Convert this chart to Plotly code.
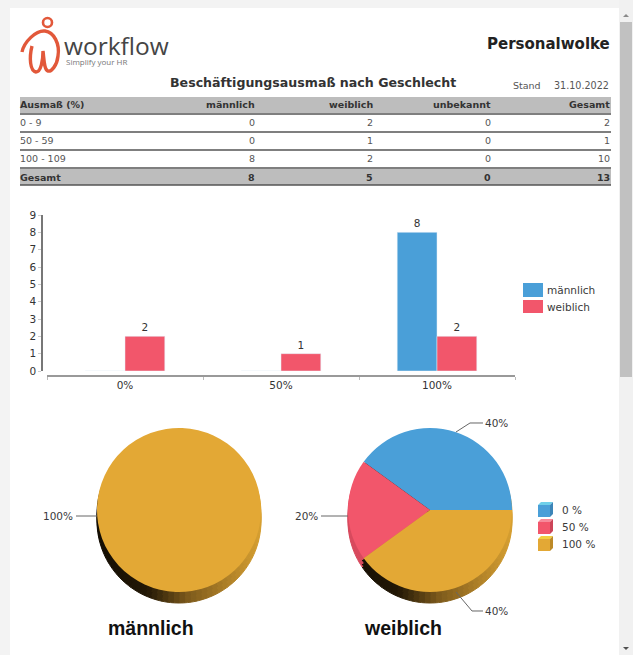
import math
import plotly.graph_objects as go

W, H = 633, 655

# ---- data ----
table_header = ["Ausmaß (%)", "männlich", "weiblich", "unbekannt", "Gesamt"]
table_ranges = ["0 - 9", "50 - 59", "100 - 109"]
table_male = [0, 0, 8]
table_female = [2, 1, 2]
table_unknown = [0, 0, 0]
table_total = [2, 1, 10]
footer_row = ["Gesamt", 8, 5, 0, 13]

bar_categories = ["0%", "50%", "100%"]
bar_male = [0, 0, 8]
bar_female = [2, 1, 2]

pie_labels = ["0 %", "50 %", "100 %"]
pie_male = [0, 0, 8]
pie_female = [2, 1, 2]

BLUE, RED, GOLD = "#4a9fd8", "#f2566b", "#e3a835"
BLUE_TOP, RED_TOP, GOLD_TOP = "#6fd0ea", "#f78a9a", "#f2d040"
BLUE_SIDE, RED_SIDE, GOLD_SIDE = "#3c85b8", "#cc4458", "#bd8a28"
TXT, FONT = "#3a3a3a", "DejaVu Sans"


def px(x):
    return x / W


def py(y):
    return 1 - y / H


def path(points, close=False):
    s = "M" + " L".join(f"{px(x):.5f},{py(y):.5f}" for x, y in points)
    return s + (" Z" if close else "")


def curve(start, segs):
    s = f"M{px(start[0]):.5f},{py(start[1]):.5f}"
    for a, b, c in segs:
        s += " C" + " ".join(f"{px(p[0]):.5f},{py(p[1]):.5f}" for p in (a, b, c))
    return s


shapes, annotations = [], []


def rect(x0, y0, x1, y1, color, layer="below"):
    shapes.append(dict(type="rect", xref="paper", yref="paper", x0=px(x0), x1=px(x1), y0=py(y0), y1=py(y1),
                       fillcolor=color, line=dict(width=0), layer=layer))


def line(points, color="#666666", width=1):
    shapes.append(dict(type="path", xref="paper", yref="paper", path=path(points),
                       line=dict(color=color, width=width), layer="above"))


def poly(points, color):
    shapes.append(dict(type="path", xref="paper", yref="paper", path=path(points, True),
                       fillcolor=color, line=dict(width=0), layer="above"))


def text(x, y, s, size=9.5, bold=False, anchor="left", color=TXT, font=FONT):
    annotations.append(dict(xref="paper", yref="paper", x=px(x), y=py(y), text=f"<b>{s}</b>" if bold else str(s),
                            showarrow=False, xanchor=anchor, yanchor="middle",
                            font=dict(size=size, color=color, family=font), borderpad=0, borderwidth=0))


# page frame and scrollbar
rect(0, 0, W, 8, "#f3f3f3")
rect(0, 0, 10, H, "#f3f3f3")
rect(619, 0, W, H, "#f1f1f1")
rect(620, 22, 632, 377, "#c1c1c1")
poly([(623, 17), (626, 14), (629, 17)], "#8a8a8a")
poly([(623, 647), (626, 650), (629, 647)], "#505050")

# logo
LOGO = "#e2583a"
shapes.append(dict(type="circle", xref="paper", yref="paper", x0=px(43), x1=px(52), y0=py(27), y1=py(18),
                   line=dict(color=LOGO, width=2.6), layer="above"))
shapes.append(dict(type="path", xref="paper", yref="paper", layer="above",
                   line=dict(color=LOGO, width=3.4),
                   path=curve((22, 52), [((24, 42), (36, 30), (45, 31)),
                                         ((54, 32), (60, 44), (58, 56)),
                                         ((57, 66), (51, 72), (48, 71)),
                                         ((44, 70), (44, 58), (43, 51)),
                                         ((43, 60), (41, 72), (36, 72)),
                                         ((30, 71), (29, 58), (32, 46))])))
text(64, 46, "workflow", size=24.5, color="#454545", font="Open Sans")
text(66, 62, "Simplify your HR", size=8, color="#777777", font="Open Sans")

# headings
text(610, 44, "Personalwolke", size=15, bold=True, anchor="right", color="#222222")
text(170, 83, "Beschäftigungsausmaß nach Geschlecht", size=12.6, bold=True, color="#333333")
text(513, 86, "Stand", size=9.5, color="#555555")
text(609, 86, "31.10.2022", size=9.6, anchor="right", color="#555555")

# table
GREY = "#bdbdbd"
COLS = [20, 255, 373, 491, 610]
rect(20, 97, 611, 113, GREY)
rect(20, 169, 611, 185, GREY)
for y, wd in [(114, 1.5), (132, 1.5), (150, 1.5), (168, 1.5), (185, 1.5)]:
    line([(20, y), (611, y)], "#555555", wd)


def table_row(y, cells, bold=False, color="#555555"):
    for i, c in enumerate(cells):
        text(COLS[i], y, c, size=9.5, bold=bold, anchor="left" if i == 0 else "right", color=color)


table_row(105, table_header, True, "#333333")
for i, r in enumerate(table_ranges):
    table_row(122 + 18 * i, [r, table_male[i], table_female[i], table_unknown[i], table_total[i]])
table_row(177, footer_row, True, "#333333")

# bar legend
rect(523, 283, 543, 297, BLUE)
rect(523, 300, 543, 313, RED)
text(547, 290, "männlich", size=10.5)
text(547, 307, "weiblich", size=10.5)

# pie legend
for i, (lab, front, top, side) in enumerate(zip(pie_labels, (BLUE, RED, GOLD), (BLUE_TOP, RED_TOP, GOLD_TOP),
                                                (BLUE_SIDE, RED_SIDE, GOLD_SIDE))):
    d = 17 * i
    poly([(538, 505 + d), (541, 502 + d), (553, 502 + d), (550, 505 + d)], top)
    poly([(550, 505 + d), (553, 502 + d), (553, 514 + d), (550, 517 + d)], side)
    poly([(538, 505 + d), (550, 505 + d), (550, 517 + d), (538, 517 + d)], front)
    text(562, 510 + d, lab, size=10.5)

# pie leaders and labels
line([(76, 516), (97, 516)])
text(73, 516, "100%", size=10.5, anchor="right")
line([(321, 516), (348, 516)])
text(318, 516, "20%", size=10.5, anchor="right")
line([(456, 432), (470, 423), (483, 423)])
text(485, 423, "40%", size=10.5)
line([(456, 592), (472, 611), (483, 611)])
text(485, 611, "40%", size=10.5)

text(151, 628, "männlich", size=19.5, bold=True, anchor="center", color="#111111", font="Liberation Sans")
text(403, 628, "weiblich", size=19.5, bold=True, anchor="center", color="#111111", font="Liberation Sans")

fig = go.Figure()

# bars
fig.add_bar(x=bar_categories, y=bar_male, name="männlich", marker=dict(color=BLUE),
            text=[v if v else "" for v in bar_male], textposition="outside", cliponaxis=False,
            textfont=dict(size=10.5, color="#333333", family=FONT))
fig.add_bar(x=bar_categories, y=bar_female, name="weiblich", marker=dict(color=RED),
            text=[v if v else "" for v in bar_female], textposition="outside", cliponaxis=False,
            textfont=dict(size=10.5, color="#333333", family=FONT))


def mix(t):
    """Shade of the pie's edge from its dark left to its lit right."""
    stops = [(0.0, (20, 14, 4)), (0.3, (35, 24, 6)), (0.55, (125, 90, 28)), (1.0, (215, 160, 50))]
    for (a, ca), (b, cb) in zip(stops, stops[1:]):
        if t <= b:
            f = (t - a) / (b - a)
            return "rgb(%d,%d,%d)" % tuple(round(ca[k] + (cb[k] - ca[k]) * f) for k in range(3))
    return "rgb(215,160,50)"


def edge_pie(x0, x1, top, bottom, red_band):
    n = 90
    colors = []
    for i in range(n):
        a = (i + 0.5) * 360 / n
        if red_band and 234 < a < 306:
            colors.append("#d84a5e")
        else:
            colors.append(mix((1 + math.sin(math.radians(a))) / 2))
    fig.add_pie(values=[1] * n, domain=dict(x=[px(x0), px(x1)], y=[py(bottom), py(top)]), sort=False,
                direction="clockwise", rotation=0, textinfo="none", hoverinfo="skip", showlegend=False,
                marker=dict(colors=colors, line=dict(width=1, color=colors)))


# pies with their rim
for off in (11, 8, 4):
    edge_pie(97, 261, 428 + off, 592 + off, False)
    edge_pie(348, 512, 428 + off, 592 + off, True)

for vals, x0, x1 in ((pie_male, 97, 261), (pie_female, 348, 512)):
    fig.add_pie(labels=pie_labels, values=vals, domain=dict(x=[px(x0), px(x1)], y=[py(592), py(428)]),
                sort=False, direction="counterclockwise", rotation=-54, textinfo="none", showlegend=False,
                marker=dict(colors=[BLUE, RED, GOLD], line=dict(width=0)))

fig.update_layout(
    width=W, height=H, margin=dict(l=0, r=0, t=0, b=0, autoexpand=False), paper_bgcolor="white",
    plot_bgcolor="rgba(0,0,0,0)",
    showlegend=False, barmode="group", bargap=0.49, bargroupgap=0, shapes=shapes, annotations=annotations,
    font=dict(family=FONT, color="#333333"),
    xaxis=dict(domain=[px(47), px(515)], anchor="free", position=py(376), type="category", showgrid=False,
               showline=True, linecolor="#999999", linewidth=1.5, tickson="boundaries", ticks="outside", ticklen=3,
               tickcolor="#bbbbbb", tickfont=dict(size=10.5, color="#333333"), zeroline=False, fixedrange=True),
    yaxis=dict(domain=[py(371), py(215)], range=[0, 9], anchor="free", position=px(42), showgrid=False,
               showline=True, linecolor="#777777", linewidth=1.5, ticks="outside", ticklen=3, tickcolor="#cccccc",
               dtick=1, tickfont=dict(size=10.5, color="#333333"), zeroline=False, fixedrange=True),
)

fig.write_html("out.html", post_script="document.body.style.margin='0';", config=dict(displayModeBar=False))
